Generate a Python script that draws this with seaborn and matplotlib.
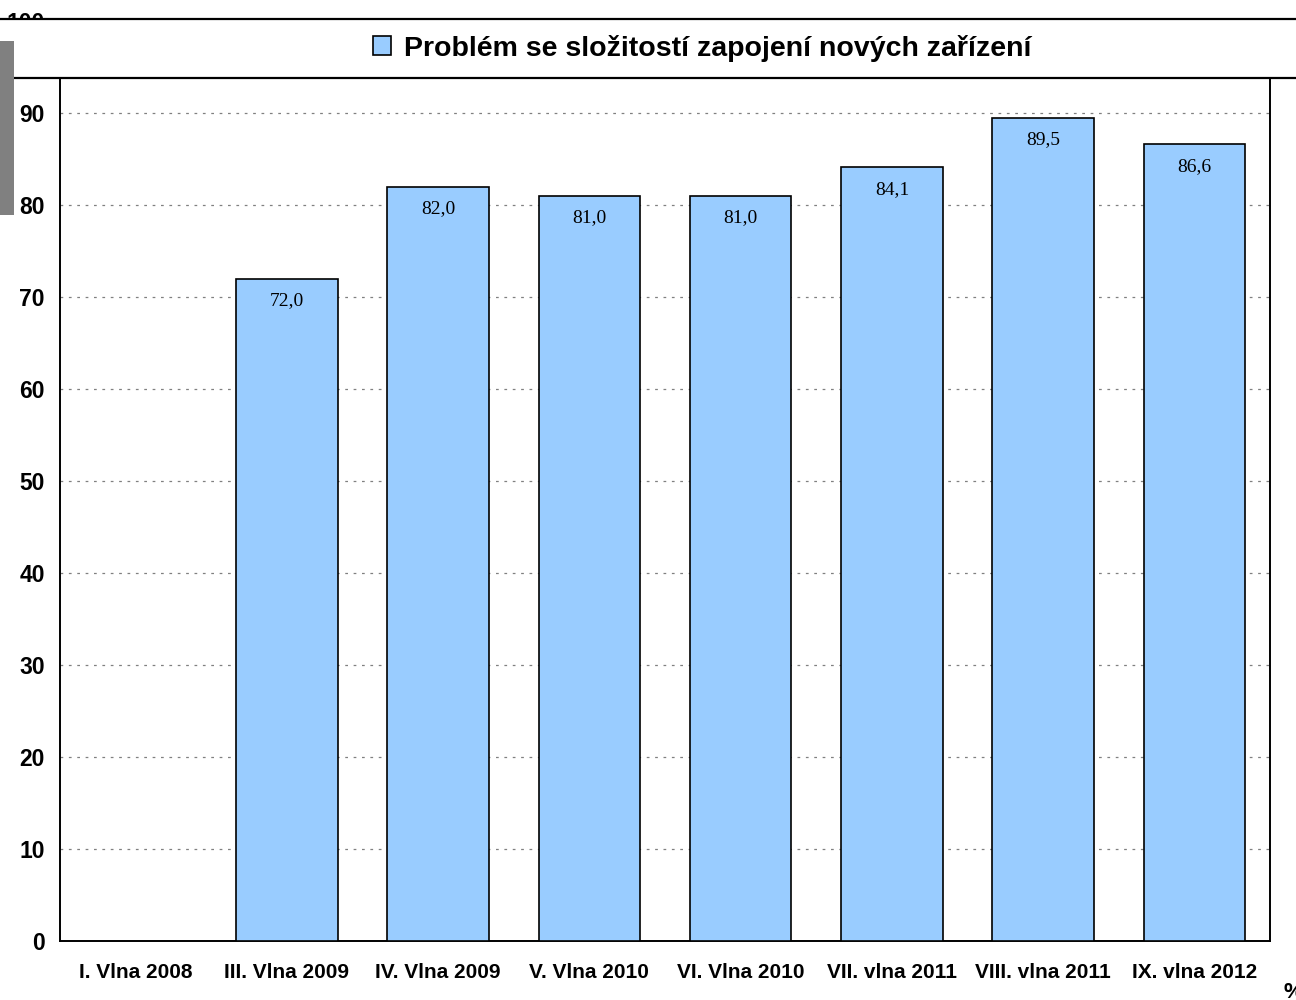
import numpy as np
import pandas as pd
import matplotlib
matplotlib.use("Agg")
import matplotlib.pyplot as plt
from matplotlib.patches import Rectangle, Patch
import seaborn as sns

# Survey waves and share of respondents (%)
waves = ["I. Vlna 2008", "III. Vlna 2009", "IV. Vlna 2009", "V. Vlna 2010",
         "VI. Vlna 2010", "VII. vlna 2011", "VIII. vlna 2011", "IX. vlna 2012"]
values = [np.nan, 72.0, 82.0, 81.0, 81.0, 84.1, 89.5, 86.6]
series_name = "Problém se složitostí zapojení nových zařízení"
y_ticks = [0, 10, 20, 30, 40, 50, 60, 70, 80, 90, 100]

bar_color = "#99CCFF"

sns.set_theme(style="white")
plt.rcParams["font.family"] = ["Liberation Sans", "DejaVu Sans"]
plt.rcParams["text.color"] = "black"
plt.rcParams["xtick.color"] = "black"
plt.rcParams["ytick.color"] = "black"
plt.rcParams["xtick.labelcolor"] = "black"
plt.rcParams["ytick.labelcolor"] = "black"

df = pd.DataFrame({"wave": waves, "pct": values})

fig = plt.figure(figsize=(12.96, 10.0), dpi=100)
ax = fig.add_axes([60 / 1296, 59 / 1000, 1210 / 1296, 920 / 1000])

sns.barplot(data=df.dropna(), x="wave", y="pct", order=waves, color=bar_color,
            saturation=1, width=0.67, edgecolor="black", linewidth=1.2,
            errorbar=None, ax=ax, zorder=3)

ax.set_xlim(-0.5, len(waves) - 0.5)
ax.set_ylim(0, 100)
ax.set_yticks(y_ticks)
ax.set_xlabel("")
ax.set_ylabel("")

# dotted horizontal grid behind the bars
ax.grid(False)
for t in y_ticks[1:]:
    ax.axhline(t, color="#808080", linewidth=0.9, linestyle=(0, (2.2, 4.5)), zorder=1)

# value labels inside the top of each bar
for i, v in enumerate(values):
    if np.isnan(v):
        continue
    ax.text(i, v - 2.4, f"{v:.1f}".replace(".", ","), ha="center", va="center",
            fontsize=14, family=["Liberation Serif", "DejaVu Serif"], color="black", zorder=4)

# ticks: labels at category centres, tick marks at category boundaries
ax.set_xticks(range(len(waves)))
ax.set_xticklabels(waves, fontsize=15, fontweight="bold", color="black")
ax.set_xticks(np.arange(-0.5, len(waves)), minor=True)
ax.tick_params(axis="x", which="major", length=0, pad=16)
ax.tick_params(axis="x", which="minor", length=6, width=1.2, color="black", direction="out")
ax.tick_params(axis="y", length=7, width=1.2, color="black", direction="out", pad=4,
               labelsize=16.5)
for lab in ax.get_yticklabels():
    lab.set_fontweight("bold")
    lab.set_color("black")

for side in ["left", "right", "bottom", "top"]:
    ax.spines[side].set_visible(True)
    ax.spines[side].set_color("black")
    ax.spines[side].set_linewidth(1.4)

# legend band across the top
band = Rectangle((-0.01, 0.922), 1.03, 0.059, transform=fig.transFigure,
                 facecolor="white", edgecolor="black", linewidth=1.6, zorder=5)
fig.patches.append(band)
side_block = Rectangle((0, 0.785), 14 / 1296, 0.174, transform=fig.transFigure,
                       facecolor="#808080", edgecolor="none", zorder=6)
fig.patches.append(side_block)

handle = Patch(facecolor=bar_color, edgecolor="black", linewidth=1.2)
leg = fig.legend([handle], [series_name], loc="center", bbox_to_anchor=(0.542, 0.952),
                 frameon=False, prop={"size": 20.5, "weight": "bold"},
                 handlelength=0.62, handleheight=0.62, handletextpad=0.45)
leg.set_zorder(7)
for txt in leg.get_texts():
    txt.set_color("black")

fig.text(1283 / 1296, 0.018, "%", ha="left", va="top", fontsize=16, fontweight="bold",
         color="black")

fig.savefig("out.png", dpi=100)
